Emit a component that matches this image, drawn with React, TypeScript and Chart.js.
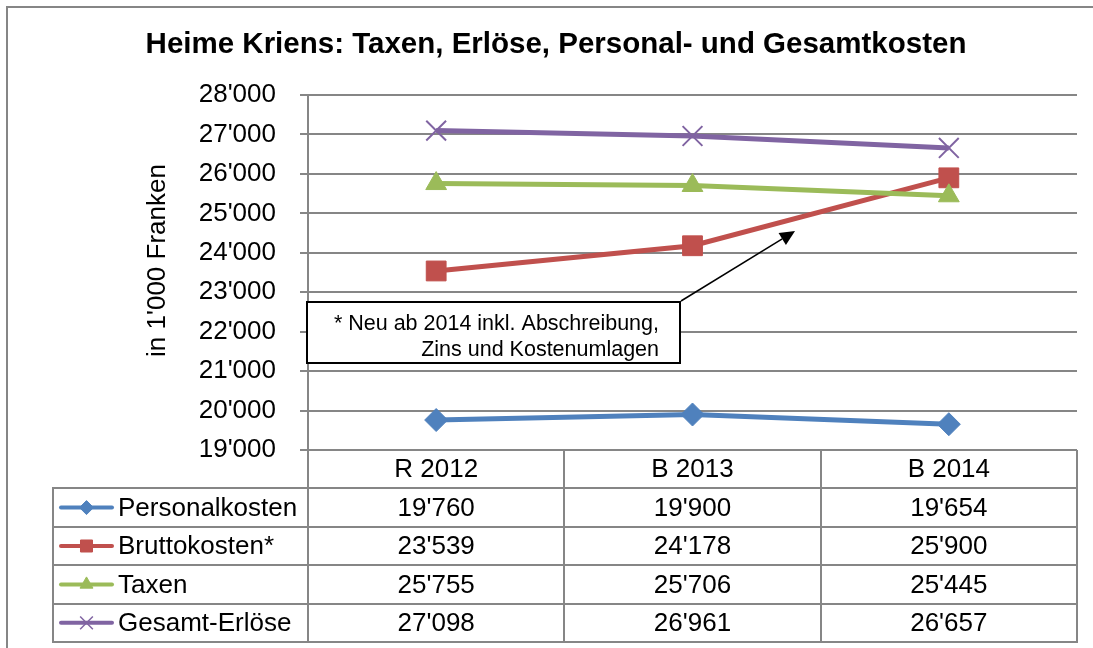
import React, { useEffect, useRef } from 'react';
import { Chart, registerables } from 'chart.js';
import { drawPoint } from 'chart.js/helpers';

Chart.register(...registerables);

// ---------- data ----------
const TITLE = 'Heime Kriens: Taxen, Erlöse, Personal- und Gesamtkosten';
const Y_TITLE = "in 1'000 Franken";
const CATEGORIES = ['R 2012', 'B 2013', 'B 2014'];
const SERIES_NAMES = ['Personalkosten', 'Bruttokosten*', 'Taxen', 'Gesamt-Erlöse'];
const PERSONALKOSTEN = [19760, 19900, 19654];
const BRUTTOKOSTEN = [23539, 24178, 25900];
const TAXEN = [25755, 25706, 25445];
const GESAMT_ERLOESE = [27098, 26961, 26657];
const Y_MIN = 19000;
const Y_MAX = 28000;
const Y_STEP = 1000;
const NOTE_LINES = ['* Neu ab 2014 inkl. Abschreibung,', 'Zins und Kostenumlagen'];
// annotation anchors in data terms (category index, value)
const NOTE_BOX_RIGHT_IDX = 0.95;
const NOTE_BOX_TOP_VAL = 22750;
const NOTE_BOX_BOTTOM_VAL = 21200;
const ARROW_TIP_IDX = 1.4;
const ARROW_TIP_VAL = 24550;

// ---------- styles ----------
const FONT = "'Liberation Sans', Arial, sans-serif";
const GRID = '#868686';
const COLORS = ['#4F81BD', '#C0504D', '#9BBB59', '#8064A2'];
const POINT_STYLES = ['rectRot', 'rect', 'triangle', 'crossRot'];
const POINT_RADII = [11.5, 14, 12, 14];
const LEGEND_RADII = [7, 8.5, 7.5, 9];
const ROW_H = 38.4;
const TABLE_LEFT = 53;

const fmt = (n: number) => `${Math.floor(n / 1000)}'${String(n % 1000).padStart(3, '0')}`;

const SERIES = [PERSONALKOSTEN, BRUTTOKOSTEN, TAXEN, GESAMT_ERLOESE];

const tablePlugin = {
  id: 'tablePlugin',
  afterDraw(chart: any) {
    const { ctx, chartArea: ca, scales } = chart;
    const x = scales.x;
    const y = scales.y;
    const bottom = ca.bottom + ROW_H * (SERIES.length + 1);
    const r = (v: number) => Math.round(v);
    ctx.save();

    // table lines
    ctx.strokeStyle = GRID;
    ctx.lineWidth = 2;
    ctx.beginPath();
    for (let k = 1; k <= SERIES.length + 1; k++) {
      const yy = r(ca.bottom + k * ROW_H);
      ctx.moveTo(TABLE_LEFT - 1, yy);
      ctx.lineTo(r(ca.right) + 1, yy);
    }
    const verts = [ca.left];
    for (let i = 0; i < CATEGORIES.length - 1; i++) {
      verts.push((x.getPixelForValue(i) + x.getPixelForValue(i + 1)) / 2);
    }
    verts.push(ca.right);
    verts.forEach((vx: number) => {
      ctx.moveTo(r(vx), r(ca.bottom));
      ctx.lineTo(r(vx), r(bottom) + 1);
    });
    ctx.moveTo(TABLE_LEFT, r(ca.bottom + ROW_H));
    ctx.lineTo(TABLE_LEFT, r(bottom) + 1);
    ctx.stroke();

    // header + values
    ctx.fillStyle = '#000';
    ctx.font = `26px ${FONT}`;
    ctx.textAlign = 'center';
    ctx.textBaseline = 'middle';
    CATEGORIES.forEach((c, i) => {
      ctx.fillText(c, x.getPixelForValue(i), ca.bottom + ROW_H / 2 + 1);
    });
    SERIES.forEach((vals, s) => {
      const yc = ca.bottom + ROW_H * (s + 1.5) + 1;
      vals.forEach((v, i) => ctx.fillText(fmt(v), x.getPixelForValue(i), yc));
    });

    // legend column
    SERIES.forEach((_, s) => {
      const yc = ca.bottom + ROW_H * (s + 1.5);
      ctx.strokeStyle = COLORS[s];
      ctx.lineWidth = 4;
      ctx.lineCap = 'round';
      ctx.beginPath();
      ctx.moveTo(61, yc);
      ctx.lineTo(112, yc);
      ctx.stroke();
      ctx.lineCap = 'butt';
      ctx.fillStyle = COLORS[s];
      ctx.strokeStyle = COLORS[s];
      ctx.lineWidth = POINT_STYLES[s] === 'crossRot' ? 1.5 : 1;
      drawPoint(ctx, { pointStyle: POINT_STYLES[s], radius: LEGEND_RADII[s], rotation: 0, borderWidth: ctx.lineWidth } as any, 86.5, yc);
      ctx.fillStyle = '#000';
      ctx.textAlign = 'left';
      ctx.fillText(SERIES_NAMES[s], 118, yc + 1);
    });

    // y-axis title
    ctx.save();
    ctx.translate(158, (ca.top + ca.bottom) / 2 - 12);
    ctx.rotate(-Math.PI / 2);
    ctx.textAlign = 'center';
    ctx.textBaseline = 'middle';
    ctx.font = `26px ${FONT}`;
    ctx.fillStyle = '#000';
    ctx.fillText(Y_TITLE, 0, 0);
    ctx.restore();

    // annotation box
    const bl = r(ca.left) - 1;
    const br = r(x.getPixelForValue(NOTE_BOX_RIGHT_IDX));
    const bt = r(y.getPixelForValue(NOTE_BOX_TOP_VAL));
    const bb = r(y.getPixelForValue(NOTE_BOX_BOTTOM_VAL));
    ctx.fillStyle = '#fff';
    ctx.fillRect(bl, bt, br - bl, bb - bt);
    ctx.strokeStyle = '#000';
    ctx.lineWidth = 2;
    ctx.strokeRect(bl, bt, br - bl, bb - bt);
    ctx.fillStyle = '#000';
    ctx.font = `21.5px ${FONT}`;
    ctx.textAlign = 'right';
    ctx.textBaseline = 'middle';
    ctx.fillText(NOTE_LINES[0], br - 21, bt + 22);
    ctx.fillText(NOTE_LINES[1], br - 21, bt + 48);

    // arrow
    const tx = x.getPixelForValue(ARROW_TIP_IDX);
    const ty = y.getPixelForValue(ARROW_TIP_VAL);
    const sx = br + 1;
    const sy = bt - 1;
    const ang = Math.atan2(ty - sy, tx - sx);
    const headL = 15;
    const headW = 7;
    const hx = tx - headL * Math.cos(ang);
    const hy = ty - headL * Math.sin(ang);
    ctx.strokeStyle = '#000';
    ctx.lineWidth = 1.5;
    ctx.beginPath();
    ctx.moveTo(sx, sy);
    ctx.lineTo(hx, hy);
    ctx.stroke();
    ctx.beginPath();
    ctx.moveTo(tx, ty);
    ctx.lineTo(hx + headW * Math.sin(ang), hy - headW * Math.cos(ang));
    ctx.lineTo(hx - headW * Math.sin(ang), hy + headW * Math.cos(ang));
    ctx.closePath();
    ctx.fill();

    // outer border
    ctx.strokeStyle = GRID;
    ctx.lineWidth = 2;
    ctx.strokeRect(7, 7, chart.width + 20, chart.height + 20);

    ctx.restore();
  },
};

export default function App() {
  const ref = useRef<HTMLCanvasElement | null>(null);

  useEffect(() => {
    if (!ref.current) return;
    const chart = new Chart(ref.current, {
      type: 'line',
      data: {
        labels: CATEGORIES,
        datasets: SERIES.map((vals, i) => ({
          label: SERIES_NAMES[i],
          data: vals,
          borderColor: COLORS[i],
          backgroundColor: COLORS[i],
          borderWidth: 5,
          tension: 0,
          pointStyle: POINT_STYLES[i] as any,
          pointRadius: POINT_RADII[i],
          pointHoverRadius: POINT_RADII[i],
          pointBackgroundColor: COLORS[i],
          pointBorderColor: COLORS[i],
          pointBorderWidth: POINT_STYLES[i] === 'crossRot' ? 2 : 1,
          order: SERIES.length - 1 - i,
          clip: false as any,
        })),
      },
      options: {
        responsive: false,
        animation: false,
        devicePixelRatio: 1,
        layout: { padding: { left: 35, right: 16, top: 0, bottom: 198 } },
        plugins: {
          legend: { display: false },
          tooltip: { enabled: false },
          title: {
            display: true,
            text: TITLE,
            color: '#000',
            font: { family: FONT, size: 29.5, weight: 'bold' },
            padding: { top: 27, bottom: 32.6 },
          },
        },
        scales: {
          x: { type: 'category', offset: true, display: false },
          y: {
            min: Y_MIN,
            max: Y_MAX,
            ticks: {
              stepSize: Y_STEP,
              color: '#000',
              font: { family: FONT, size: 26 },
              padding: 24,
              callback: (v: any) => fmt(Number(v)),
            },
            grid: { color: GRID, lineWidth: 2, tickLength: 8, drawTicks: true },
            border: { color: GRID, width: 2 },
            afterFit: (s: any) => {
              s.width = 273;
            },
          },
        },
      },
      plugins: [tablePlugin],
    });
    return () => chart.destroy();
  }, []);

  return (
    <div style={{ position: 'absolute', left: 0, top: 0, width: 1093, height: 648, background: '#fff' }}>
      <canvas ref={ref} width={1093} height={648} style={{ display: 'block' }} />
    </div>
  );
}
